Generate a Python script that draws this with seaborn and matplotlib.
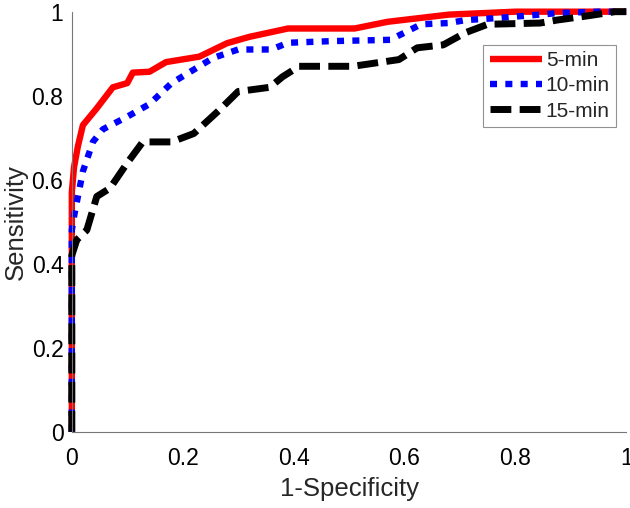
import matplotlib

matplotlib.use("Agg")
import matplotlib.pyplot as plt
import pandas as pd
import seaborn as sns

sns.set_theme(style="white")
plt.rcParams["font.family"] = ["Liberation Sans", "DejaVu Sans"]

# ROC points (1-specificity, sensitivity)
fpr_5 = [0, 0, 0.004, 0.011, 0.02, 0.045, 0.074, 0.1, 0.11, 0.14, 0.17, 0.23,
         0.28, 0.32, 0.39, 0.51, 0.57, 0.68, 0.8, 1.0]
tpr_5 = [0, 0.57, 0.63, 0.68, 0.73, 0.77, 0.82, 0.83, 0.855, 0.857, 0.88, 0.893,
         0.925, 0.94, 0.96, 0.96, 0.976, 0.993, 1.0, 1.0]

fpr_10 = [0, 0, 0.005, 0.02, 0.038, 0.056, 0.1, 0.14, 0.18, 0.23, 0.255, 0.30,
          0.36, 0.39, 0.47, 0.574, 0.60, 0.63, 0.68, 0.71, 0.77, 0.88, 0.95, 1.0]
tpr_10 = [0, 0.48, 0.52, 0.62, 0.69, 0.72, 0.75, 0.78, 0.83, 0.87, 0.89, 0.91,
          0.91, 0.926, 0.93, 0.933, 0.95, 0.97, 0.973, 0.98, 0.985, 0.997, 1.0, 1.0]

fpr_15 = [0, 0, 0.009, 0.027, 0.045, 0.069, 0.1, 0.128, 0.18, 0.22, 0.267, 0.30,
          0.357, 0.38, 0.41, 0.507, 0.59, 0.623, 0.67, 0.71, 0.75, 0.845, 0.875,
          0.93, 0.98, 1.0]
tpr_15 = [0, 0.42, 0.457, 0.48, 0.56, 0.58, 0.64, 0.69, 0.69, 0.71, 0.767, 0.81,
          0.82, 0.845, 0.87, 0.87, 0.886, 0.914, 0.921, 0.95, 0.97, 0.973, 0.98,
          0.99, 1.0, 1.0]

series = [
    ("5-min", fpr_5, tpr_5, "#ff0000", "-", 4.6),
    ("10-min", fpr_10, tpr_10, "#0000ff", (0, (1.1, 1.3)), 4.6),
    ("15-min", fpr_15, tpr_15, "#000000", (0, (3.0, 1.2)), 5.0),
]

fig = plt.figure(figsize=(6.3, 5.08), dpi=100)
ax = fig.add_axes([0.114, 0.15, 0.88, 0.827])

for name, x, y, colour, ls, lw in series:
    df = pd.DataFrame({"fpr": x, "tpr": y})
    sns.lineplot(data=df, x="fpr", y="tpr", sort=False, estimator=None, ax=ax,
                 color=colour, linestyle=ls, linewidth=lw, label=name,
                 clip_on=False, solid_capstyle="butt", dash_capstyle="butt")

ax.set_xlim(0, 1)
ax.set_ylim(0, 1)
ticks = [0, 0.2, 0.4, 0.6, 0.8, 1]
labels = ["0", "0.2", "0.4", "0.6", "0.8", "1"]
ax.set_xticks(ticks)
ax.set_xticklabels(labels)
ax.set_yticks(ticks)
ax.set_yticklabels(labels)
ax.tick_params(direction="in", length=3, width=0.8, colors="#777777",
               labelcolor="black", labelsize=16.5)
ax.tick_params(axis="x", pad=11)
ax.tick_params(axis="y", pad=6)
for side in ["top", "right"]:
    ax.spines[side].set_visible(False)
for side in ["left", "bottom"]:
    ax.spines[side].set_color("#777777")
    ax.spines[side].set_linewidth(0.8)

ax.set_xlabel("1-Specificity", fontsize=18.5, labelpad=5)
ax.set_ylabel("Sensitivity", fontsize=18.5, labelpad=3)

leg = ax.legend(loc="upper right", bbox_to_anchor=(0.982, 0.921),
                borderaxespad=0, fontsize=15, handlelength=2.5,
                handletextpad=0.2, labelspacing=0.3, borderpad=0.3,
                frameon=True, fancybox=False)
leg.get_frame().set_edgecolor("#777777")
leg.get_frame().set_linewidth(0.8)

fig.savefig("out.png", dpi=100)
